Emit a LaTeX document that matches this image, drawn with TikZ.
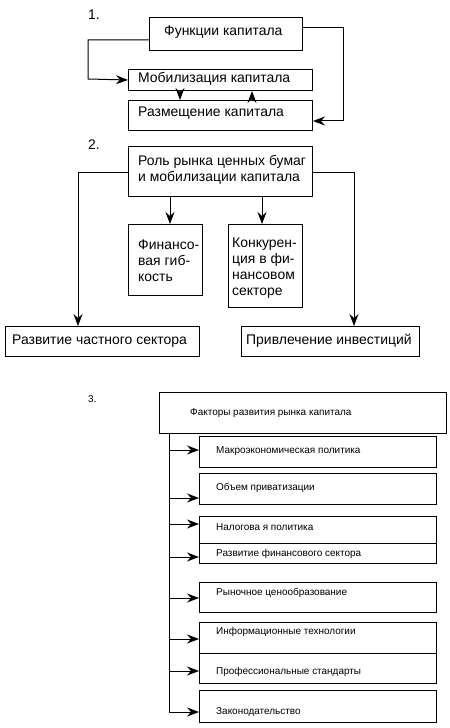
\documentclass[tikz,border=0pt]{standalone}
\usepackage{fontspec}
\setmainfont{Liberation Sans}
\usetikzlibrary{arrows.meta}
\newcommand\mybox[5]{\node[box,minimum width={(#4-#2)*1bp},minimum height={(#5-#3)*1bp}] (#1) at (#2,#3) {};}
\begin{document}
\begin{tikzpicture}[x=1bp,y=-1bp,
  box/.style={draw,line width=1bp,anchor=north west,inner sep=0pt},
  arr/.style={line width=1bp,-{Stealth[length=12bp,width=9bp,inset=4bp]}},
  ln/.style={line width=1bp},
  big/.style={font=\fontsize{14}{16}\selectfont,inner sep=0pt,anchor=west,align=left},
  small/.style={font=\fontsize{10}{12}\selectfont,inner sep=0pt,anchor=west}]
\useasboundingbox (0,0) rectangle (450,728);
% ---------- 1 ----------
\node[big] (n1) at (88,15) {1.};
\mybox{f}{149}{17}{302}{50}
\mybox{mob}{128}{69}{312}{90}
\mybox{razm}{128}{100}{312}{130}
\node[big] (tf) at (164,32) {Функции капитала};
\node[big] (tmob) at (138,79) {Мобилизация капитала};
\node[big] (trazm) at (138,113) {Размещение капитала};
\draw[arr] (f.west |- 0,40) -| (88,79) -- (mob.west);
\draw[arr] (f.east |- 0,28) -| (343,121) -- (razm.east |- 0,121);
\draw[arr] (mob.south -| 180,0) -- (razm.north -| 180,0);
\draw[arr] (razm.north -| 252,0) -- (mob.south -| 252,0);
% ---------- 2 ----------
\node[big] (n2) at (88,145) {2.};
\mybox{role}{128}{146}{312}{196}
\mybox{fin}{128}{224}{202}{295}
\mybox{konk}{228}{224}{302}{307}
\mybox{dev}{5}{326}{199}{356}
\mybox{inv}{241}{326}{419}{356}
\node[big] (trole) at (138,170) {Роль рынка ценных бумаг\\и мобилизации капитала};
\node[big] (tfin) at (138,261) {Финансо-\\вая гиб-\\кость};
\node[big] (tkonk) at (232,268) {Конкурен-\\ция в фи-\\нансовом\\секторе};
\node[big] (tdev) at (12,341) {Развитие частного сектора};
\node[big] (tinv) at (246,341) {Привлечение инвестиций};
\draw[arr] (role.west |- 0,172) -| (dev.north -| 78,0);
\draw[arr] (role.east |- 0,172) -| (inv.north -| 354,0);
\draw[arr] (role.south -| 170,0) -- (fin.north -| 170,0);
\draw[arr] (role.south -| 262,0) -- (konk.north -| 262,0);
% ---------- 3 ----------
\node[small] (n3) at (88,399) {3.};
\mybox{fak}{159}{392}{446}{433}
\mybox{b1}{199}{436}{436}{467}
\mybox{b2}{199}{473}{436}{504}
\mybox{b3}{199}{516}{436}{543}
\mybox{b4}{199}{543}{436}{563}
\mybox{b5}{199}{582}{436}{612}
\mybox{b6}{199}{622}{436}{653}
\mybox{b7}{199}{653}{436}{683}
\mybox{b8}{199}{690}{436}{722}
\node[small] (tfak) at (190,413) {Факторы развития рынка капитала};
\node[small] (t1) at (216,451) {Макроэкономическая политика};
\node[small] (t2) at (216,488) {Объем приватизации};
\node[small] (t3) at (216,527) {Налогова я политика};
\node[small] (t4) at (216,554) {Развитие финансового сектора};
\node[small] (t5) at (216,593) {Рыночное ценообразование};
\node[small] (t6) at (216,632) {Информационные технологии};
\node[small] (t7) at (216,672) {Профессиональные стандарты};
\node[small] (t8) at (216,712) {Законодательство};
\coordinate (trunk) at (fak.south -| 169,0);
\draw[ln] (trunk) -- (trunk |- 0,712);
\draw[arr] (trunk |- 0,450) -- (b1.west |- 0,450);
\draw[arr] (trunk |- 0,498) -- (b2.west |- 0,498);
\draw[arr] (trunk |- 0,524) -- (b3.west |- 0,524);
\draw[arr] (trunk |- 0,557) -- (b4.west |- 0,557);
\draw[arr] (trunk |- 0,598) -- (b5.west |- 0,598);
\draw[arr] (trunk |- 0,639) -- (b6.west |- 0,639);
\draw[arr] (trunk |- 0,671) -- (b7.west |- 0,671);
\draw[arr] (trunk |- 0,712) -- (b8.west |- 0,712);
\end{tikzpicture}
\end{document}
